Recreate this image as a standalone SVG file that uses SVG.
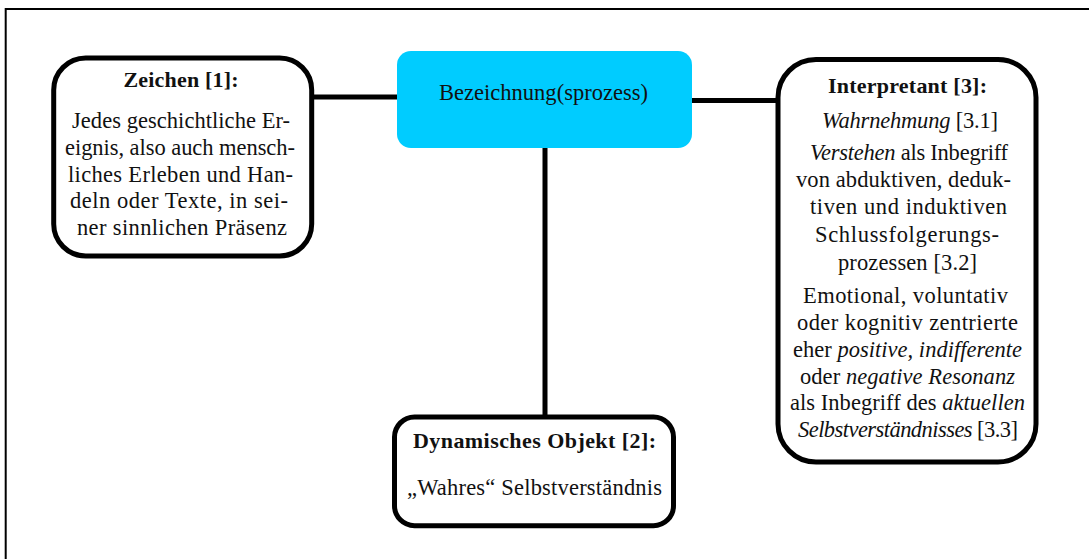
<svg xmlns="http://www.w3.org/2000/svg" width="1089" height="559" viewBox="0 0 1089 559">
  <style>
    .frame { fill: none; stroke: #000; stroke-width: 2; }
    .box { fill: #fff; stroke: #000; stroke-width: 5; }
    .process { fill: #00ccff; }
    .link { stroke: #000; stroke-width: 5; fill: none; }
    text { font-family: "Liberation Serif", "Times New Roman", serif; font-size: 22.5px; fill: #111; text-anchor: middle; }
    .title { font-weight: bold; font-size: 22px; }
    .it { font-style: italic; }
  </style>

  <!-- page frame (top and left edges) -->
  <path class="frame" d="M5.7 559 V9 H1089"/>

  <!-- connectors -->
  <g id="connectors">
    <line class="link" x1="312" y1="97" x2="398" y2="97"/>
    <line class="link" x1="691" y1="100.5" x2="778" y2="100.5"/>
    <line class="link" x1="545" y1="147" x2="545" y2="417"/>
  </g>

  <!-- central process node -->
  <g id="bezeichnung">
    <rect class="process" x="397" y="51" width="295" height="97" rx="14"/>
    <text x="543.5" y="100" textLength="209">Bezeichnung(sprozess)</text>
  </g>

  <!-- sign -->
  <g id="zeichen">
    <rect class="box" x="53.7" y="58" width="258" height="198" rx="32"/>
    <text class="title" x="181" y="87" textLength="115">Zeichen [1]:</text>
    <text x="181" y="128" textLength="218">Jedes geschichtliche Er-</text>
    <text x="180" y="154.5" textLength="230">eignis, also auch mensch-</text>
    <text x="180.5" y="181.5" textLength="225">liches Erleben und Han-</text>
    <text x="179" y="208" textLength="218">deln oder Texte, in sei-</text>
    <text x="182" y="235" textLength="210">ner sinnlichen Präsenz</text>
  </g>

  <!-- interpretant -->
  <g id="interpretant">
    <rect class="box" x="778" y="59.5" width="258" height="402.5" rx="38"/>
    <text class="title" x="907.5" y="92.5" textLength="159">Interpretant [3]:</text>
    <text x="910" y="127.5" textLength="176"><tspan class="it">Wahrnehmung</tspan> [3.1]</text>
    <text x="909" y="160" textLength="198"><tspan class="it">Verstehen</tspan> als Inbegriff</text>
    <text x="903.5" y="187" textLength="215">von abduktiven, deduk-</text>
    <text x="908.5" y="214" textLength="197">tiven und induktiven</text>
    <text x="907" y="241.5" textLength="184">Schlussfolgerungs-</text>
    <text x="907.5" y="269.5" textLength="139">prozessen [3.2]</text>
    <text x="905.5" y="302.5" textLength="205">Emotional, voluntativ</text>
    <text x="907.5" y="329.5" textLength="221">oder kognitiv zentrierte</text>
    <text x="907.5" y="356.5" textLength="229">eher <tspan class="it">positive, indifferente</tspan></text>
    <text x="907.5" y="383.5" textLength="215">oder <tspan class="it">negative Resonanz</tspan></text>
    <text x="907.5" y="410" textLength="235">als Inbegriff des <tspan class="it">aktuellen</tspan></text>
    <text x="908" y="437" textLength="220"><tspan class="it">Selbstverständnisses</tspan> [3.3]</text>
  </g>

  <!-- dynamic object -->
  <g id="dynamisches-objekt">
    <rect class="box" x="394.5" y="417" width="279" height="108.7" rx="20"/>
    <text class="title" x="534.5" y="448" textLength="243">Dynamisches Objekt [2]:</text>
    <text x="534.5" y="495" textLength="255">„Wahres“ Selbstverständnis</text>
  </g>
</svg>
